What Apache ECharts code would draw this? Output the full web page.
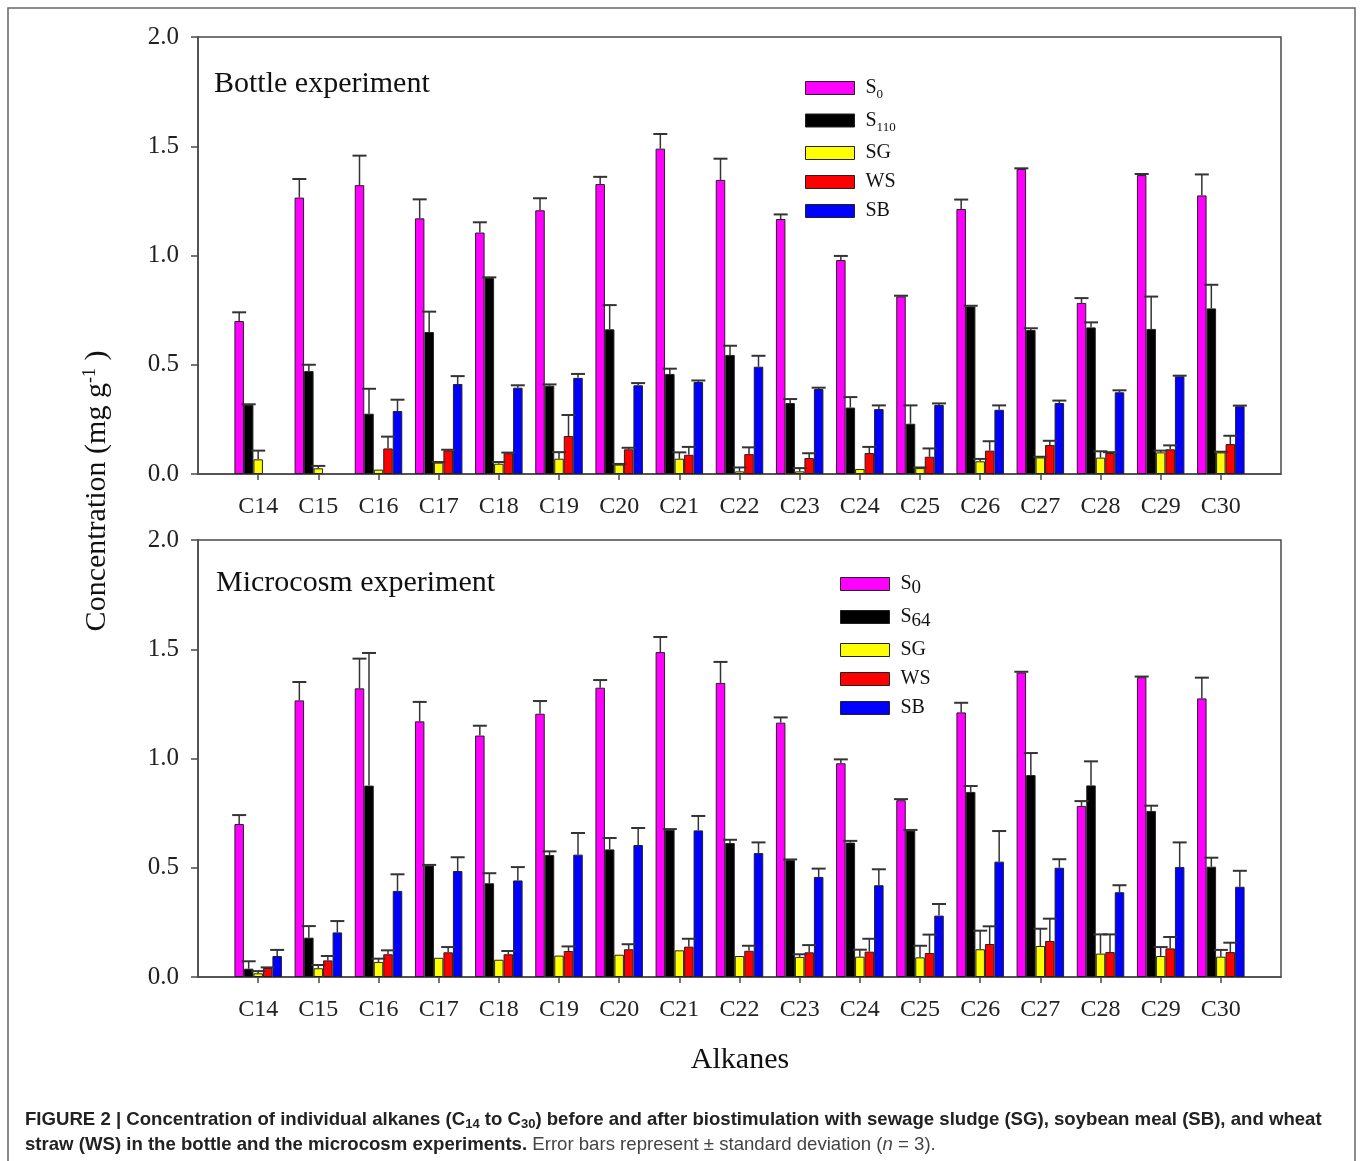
<!DOCTYPE html>
<html>
<head>
<meta charset="utf-8">
<script src="https://cdn.jsdelivr.net/npm/echarts@6/dist/echarts.min.js"></script>
<style>
html,body{margin:0;padding:0;background:#fff;}
#chart{width:1360px;height:1161px;}
</style>
</head>
<body>
<div id="chart"></div>
<script>
// Categories
const categories = ['C14','C15','C16','C17','C18','C19','C20','C21','C22','C23','C24','C25','C26','C27','C28','C29','C30'];
const yTicks = [0, 0.5, 1.0, 1.5, 2.0];

// Bottle experiment (top)
const bottleS0     = [0.70,1.265,1.322,1.17,1.105,1.207,1.327,1.489,1.346,1.167,0.979,0.813,1.213,1.396,0.783,1.368,1.275];
const bottleS0Sd   = [0.04,0.085,0.135,0.087,0.047,0.055,0.033,0.067,0.097,0.021,0.019,0.003,0.043,0.003,0.022,0.005,0.096];
const bottleS110   = [0.316,0.471,0.276,0.65,0.897,0.404,0.662,0.458,0.545,0.325,0.304,0.23,0.767,0.659,0.671,0.664,0.758];
const bottleS110Sd = [0.003,0.029,0.114,0.093,0.003,0.006,0.111,0.024,0.042,0.018,0.048,0.084,0.003,0.008,0.023,0.148,0.108];
const bottleSG     = [0.067,0.026,0.02,0.052,0.047,0.07,0.043,0.07,0.012,0.012,0.023,0.027,0.058,0.076,0.075,0.099,0.099];
const bottleSGSd   = [0.04,0.011,0,0.003,0.008,0.03,0.003,0.029,0.018,0.015,0,0.003,0.011,0.003,0.029,0.008,0.003];
const bottleWS     = [null,null,0.117,0.108,0.095,0.174,0.113,0.088,0.091,0.073,0.096,0.079,0.107,0.133,0.096,0.113,0.137];
const bottleWSSd   = [0,0,0.054,0.003,0.003,0.096,0.007,0.036,0.031,0.022,0.028,0.038,0.043,0.019,0.004,0.018,0.038];
const bottleSB     = [null,null,0.288,0.412,0.395,0.44,0.406,0.421,0.491,0.389,0.297,0.316,0.294,0.325,0.374,0.447,0.31];
const bottleSBSd   = [0,0,0.052,0.036,0.011,0.018,0.01,0.007,0.05,0.006,0.017,0.007,0.02,0.011,0.009,0.003,0.003];

// Microcosm experiment (bottom)
const microS0    = [0.70,1.266,1.321,1.17,1.105,1.205,1.324,1.487,1.346,1.164,0.978,0.809,1.211,1.394,0.783,1.372,1.275];
const microS0Sd  = [0.041,0.084,0.136,0.089,0.045,0.058,0.035,0.069,0.096,0.024,0.018,0.005,0.044,0.003,0.022,0.003,0.095];
const microS64   = [0.038,0.18,0.876,0.51,0.429,0.558,0.584,0.674,0.613,0.535,0.615,0.67,0.847,0.924,0.877,0.76,0.505];
const microS64Sd = [0.034,0.053,0.607,0.003,0.046,0.017,0.052,0.003,0.015,0.003,0.008,0.003,0.027,0.101,0.11,0.024,0.041];
const microSG    = [0.017,0.04,0.069,0.088,0.079,0.098,0.102,0.122,0.096,0.092,0.093,0.09,0.127,0.142,0.107,0.096,0.093];
const microSGSd  = [0.01,0.015,0.015,0,0,0,0,0,0,0.012,0.032,0.053,0.085,0.079,0.088,0.041,0.031];
const microWS    = [0.041,0.076,0.104,0.113,0.104,0.119,0.127,0.139,0.12,0.113,0.116,0.11,0.151,0.165,0.114,0.131,0.114];
const microWSSd  = [0.003,0.02,0.018,0.024,0.015,0.021,0.023,0.036,0.023,0.033,0.059,0.084,0.081,0.102,0.081,0.052,0.043];
const microSB    = [0.096,0.204,0.394,0.485,0.442,0.56,0.604,0.671,0.567,0.458,0.42,0.281,0.528,0.5,0.388,0.503,0.413];
const microSBSd  = [0.028,0.052,0.076,0.063,0.061,0.099,0.078,0.066,0.049,0.038,0.073,0.053,0.14,0.039,0.032,0.113,0.073];

const colors = {S0:'#FF00FF', S110:'#000000', S64:'#000000', SG:'#FFFF00', WS:'#FF0000', SB:'#0000FF'};
const SERIF = "'Liberation Serif','Times New Roman',serif";
const SANS = "'Liberation Sans',Arial,sans-serif";
const BAR_W = 9.5;
const AXIS_COLOR = '#4a4a4a';

const xCats = [''].concat(categories).concat(['']);

function padData(arr){ return [null].concat(arr).concat([null]); }

function barSeries(name, vals, gi){
  return {
    type:'bar', name:name, xAxisIndex:gi, yAxisIndex:gi,
    data: padData(vals), barWidth: BAR_W, barGap:'0%',
    itemStyle:{color:colors[name], borderColor:'#222', borderWidth:1},
    emphasis:{disabled:true}, animation:false
  };
}
function errSeries(name, vals, sds, gi, k){
  const data = [];
  vals.forEach(function(v,i){ if(v!==null && sds[i]>0) data.push([i+1, v, sds[i]]); });
  return {
    type:'custom', name:name+'_err', xAxisIndex:gi, yAxisIndex:gi, z:5,
    data:data, animation:false, silent:true,
    renderItem:function(params, api){
      const c = api.value(0), v = api.value(1), sd = api.value(2);
      const p0 = api.coord([c, v]);
      const p1 = api.coord([c, v+sd]);
      const x = p0[0] + (k-2)*BAR_W;
      return {type:'group', children:[
        {type:'line', shape:{x1:x,y1:p0[1],x2:x,y2:p1[1]}, style:{stroke:'#333',lineWidth:1.5}},
        {type:'line', shape:{x1:x-7,y1:p1[1],x2:x+7,y2:p1[1]}, style:{stroke:'#333',lineWidth:2}}
      ]};
    }
  };
}

function xAxis(gi){
  return {
    type:'category', gridIndex:gi, data:xCats, boundaryGap:false,
    axisLine:{show:true, lineStyle:{color:AXIS_COLOR, width:1.5}},
    axisTick:{show:true, length:6, inside:false, interval:function(i,v){return v!=='';}, lineStyle:{color:AXIS_COLOR,width:1.5}},
    axisLabel:{fontFamily:SERIF, fontSize:24, color:'#222', margin:21, interval:0},
    splitLine:{show:false}
  };
}
function yAxis(gi){
  return {
    type:'value', gridIndex:gi, min:yTicks[0], max:yTicks[yTicks.length-1], interval:0.5,
    axisLine:{show:true, lineStyle:{color:AXIS_COLOR, width:1.5}},
    axisTick:{show:true, length:7, lineStyle:{color:AXIS_COLOR,width:1.5}},
    axisLabel:{fontFamily:SERIF, fontSize:25, color:'#222', margin:19, formatter:function(v){return v.toFixed(1);}},
    splitLine:{show:false}
  };
}

const topNames = {S0:'S{sub|0}', S110:'S{sub|110}', SG:'SG', WS:'WS', SB:'SB'};
const botNames = {S0:'S{sub2|0}', S64:'S{sub2|64}', SG:'SG', WS:'WS', SB:'SB'};

const option = {
  backgroundColor:'#fff',
  animation:false,
  title:[
    {text:'Bottle experiment', left:209, top:64, textStyle:{fontFamily:SERIF, fontSize:30, fontWeight:'normal', color:'#111'}},
    {text:'Microcosm experiment', left:211, top:563, textStyle:{fontFamily:SERIF, fontSize:30, fontWeight:'normal', color:'#111'}}
  ],
  grid:[
    {left:198, top:37, width:1083, height:437, show:true, borderColor:AXIS_COLOR, borderWidth:1.5, backgroundColor:'transparent'},
    {left:198, top:540, width:1083, height:437, show:true, borderColor:AXIS_COLOR, borderWidth:1.5, backgroundColor:'transparent'}
  ],
  legend:[
    {data:['S0','S110','SG','WS','SB'], orient:'vertical', left:805, top:78, padding:0, icon:'rect', itemWidth:49, itemHeight:13, itemGap:9, selectedMode:false,
     itemStyle:{borderColor:'#222', borderWidth:1},
     formatter:function(n){return topNames[n];},
     textStyle:{fontFamily:SERIF, fontSize:20, color:'#111', padding:[0,0,0,6],
       rich:{sub:{fontFamily:SERIF, fontSize:13, color:'#111', padding:[14,0,0,0]}}}},
    {data:['S0','S64','SG','WS','SB'], orient:'vertical', left:840, top:574, padding:0, icon:'rect', itemWidth:49, itemHeight:13, itemGap:9, selectedMode:false,
     itemStyle:{borderColor:'#222', borderWidth:1},
     formatter:function(n){return botNames[n];},
     textStyle:{fontFamily:SERIF, fontSize:20, color:'#111', padding:[0,0,0,6],
       rich:{sub2:{fontFamily:SERIF, fontSize:19, color:'#111', padding:[9,0,0,0]}}}}
  ],
  xAxis:[xAxis(0), xAxis(1)],
  yAxis:[yAxis(0), yAxis(1)],
  series:[
    barSeries('S0', bottleS0, 0), barSeries('S110', bottleS110, 0), barSeries('SG', bottleSG, 0), barSeries('WS', bottleWS, 0), barSeries('SB', bottleSB, 0),
    errSeries('S0', bottleS0, bottleS0Sd, 0, 0), errSeries('S110', bottleS110, bottleS110Sd, 0, 1), errSeries('SG', bottleSG, bottleSGSd, 0, 2), errSeries('WS', bottleWS, bottleWSSd, 0, 3), errSeries('SB', bottleSB, bottleSBSd, 0, 4),
    barSeries('S0', microS0, 1), barSeries('S64', microS64, 1), barSeries('SG', microSG, 1), barSeries('WS', microWS, 1), barSeries('SB', microSB, 1),
    errSeries('S0', microS0, microS0Sd, 1, 0), errSeries('S64', microS64, microS64Sd, 1, 1), errSeries('SG', microSG, microSGSd, 1, 2), errSeries('WS', microWS, microWSSd, 1, 3), errSeries('SB', microSB, microSBSd, 1, 4)
  ],
  graphic:[
    {type:'rect', silent:true, z:-1, shape:{x:8, y:8, width:1347, height:1170}, style:{fill:'none', stroke:'#666', lineWidth:1.5}},
    {type:'text', x:97, y:491, rotation:Math.PI/2, silent:true,
     style:{text:'Concentration (mg g{sup|-1} )', fontFamily:SERIF, fontSize:30, fill:'#111', align:'center', verticalAlign:'middle',
       rich:{sup:{fontFamily:SERIF, fontSize:18, fill:'#111', padding:[0,0,14,0]}}}},
    {type:'text', x:740, y:1060, silent:true,
     style:{text:'Alkanes', fontFamily:SERIF, fontSize:30, fill:'#111', align:'center', verticalAlign:'middle'}},
    {type:'text', x:25, y:1120, silent:true,
     style:{text:'{b|FIGURE 2 | Concentration of individual alkanes (C}{bs|14}{b| to C}{bs|30}{b|) before and after biostimulation with sewage sludge (SG), soybean meal (SB), and wheat}',
       verticalAlign:'middle', align:'left',
       rich:{b:{fontFamily:SANS, fontSize:18.6, fontWeight:'bold', fill:'#222'},
             bs:{fontFamily:SANS, fontSize:13, fontWeight:'bold', fill:'#222', padding:[8,0,0,0]}}}},
    {type:'text', x:25, y:1145, silent:true,
     style:{text:'{b|straw (WS) in the bottle and the microcosm experiments.}{n| Error bars represent ± standard deviation (}{i|n}{n| = 3).}',
       verticalAlign:'middle', align:'left',
       rich:{b:{fontFamily:SANS, fontSize:18.6, fontWeight:'bold', fill:'#222'},
             n:{fontFamily:SANS, fontSize:18.6, fill:'#444'},
             i:{fontFamily:SANS, fontSize:18.6, fontStyle:'italic', fill:'#444'}}}}
  ]
};

const chart = echarts.init(document.getElementById('chart'), null, {renderer:'canvas'});
chart.setOption(option);
</script>
</body>
</html>
